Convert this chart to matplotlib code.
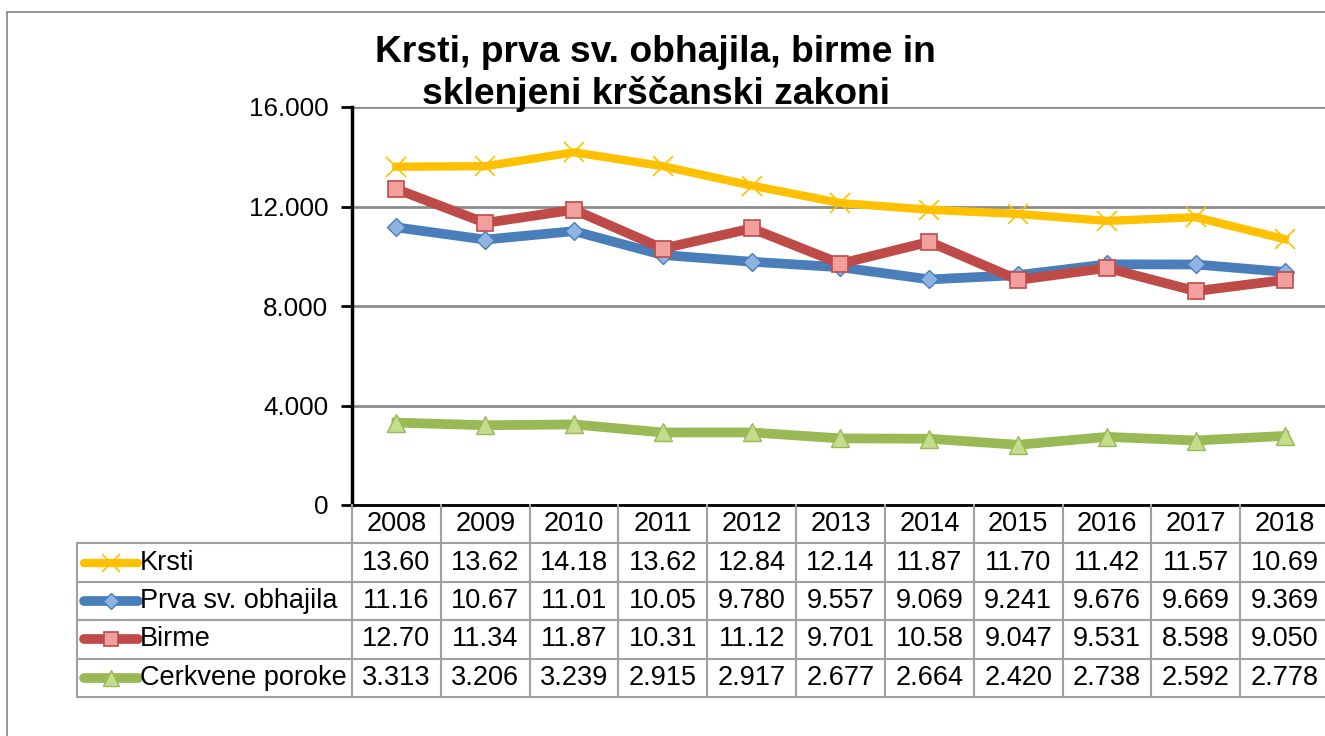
import matplotlib
matplotlib.use("Agg")
import matplotlib.pyplot as plt
from matplotlib.patches import Rectangle

plt.rcParams['font.family'] = ['Liberation Sans', 'DejaVu Sans']

# podatki (v tisocih)
years = ["2008", "2009", "2010", "2011", "2012", "2013", "2014", "2015", "2016", "2017", "2018"]
krsti = [13.60, 13.62, 14.18, 13.62, 12.84, 12.14, 11.87, 11.70, 11.42, 11.57, 10.69]
obhajila = [11.16, 10.67, 11.01, 10.05, 9.780, 9.557, 9.069, 9.241, 9.676, 9.669, 9.369]
birme = [12.70, 11.34, 11.87, 10.31, 11.12, 9.701, 10.58, 9.047, 9.531, 8.598, 9.050]
poroke = [3.313, 3.206, 3.239, 2.915, 2.917, 2.677, 2.664, 2.420, 2.738, 2.592, 2.778]
names = ["Krsti", "Prva sv. obhajila", "Birme", "Cerkvene poroke"]
yticks = [0, 4000, 8000, 12000, 16000]

series = [krsti, obhajila, birme, poroke]
lines = [dict(color="#FFC000", lw=6), dict(color="#4A7EBB", lw=7),
         dict(color="#BE4B48", lw=7), dict(color="#98B954", lw=7)]
marks = [
    dict(marker="x", ms=15, mec="#FFC000", mew=1.2),
    dict(marker="D", ms=9, mfc="#8DB4E2", mec="#4A7EBB", mew=1),
    dict(marker="s", ms=12, mfc="#F2A09E", mec="#BE4B48", mew=1.2),
    dict(marker="^", ms=13, mfc="#C4DC8C", mec="#98B954", mew=1),
]

W, H = 1325, 736
fig = plt.figure(figsize=(W / 100, H / 100), dpi=100)

# zunanji okvir
fig.patches.append(Rectangle((7 / W, -0.1), 1.2, 1 - 12 / H + 0.1, transform=fig.transFigure,
                             fill=False, ec="#8C8C8C", lw=1.3))

left, right, top, bottom = 352, 1329, 107, 505
ax = fig.add_axes([left / W, 1 - bottom / H, (right - left) / W, (bottom - top) / H])
ax.set_xlim(-0.5, 10.5)
ax.set_ylim(0, 16000)
for s, ls, mk in zip(series, lines, marks):
    ax.plot(range(len(years)), [v * 1000 for v in s], solid_joinstyle="round", **ls, **mk)

ax.set_yticks(yticks)
ax.set_yticklabels([f"{t:,}".replace(",", ".") for t in yticks], fontsize=18.7)
ax.tick_params(axis="y", direction="out", length=8, width=2, pad=9)
ax.set_xticks([])
ax.grid(axis="y", color="#8C8C8C", lw=2)
ax.set_axisbelow(True)
for sp in ["top", "right"]:
    ax.spines[sp].set_visible(False)
ax.spines["left"].set_linewidth(2.5)
ax.spines["bottom"].set_linewidth(2)

ax.text(0.311, 1.0 - 5 / 398, "Krsti, prva sv. obhajila, birme in\nsklenjeni krščanski zakoni",
        transform=ax.transAxes, ha="center", va="bottom", fontsize=26.8, fontweight="bold",
        linespacing=1.2, zorder=5)

# tabela s podatki
tb = 697
tax = fig.add_axes([left / W, 1 - tb / H, (right - left) / W, (tb - bottom) / H])
tax.set_xlim(-0.5, 10.5)
tax.set_ylim(5, 0)
tax.axis("off")
colw = (right - left) / 11
x_lab = -0.5 - (left - 77) / colw
gc = "#A0A0A0"
fs = 19.5
for i in range(12):
    tax.plot([i - 0.5, i - 0.5], [0, 5], color=gc, lw=1.5, clip_on=False)
for r in range(1, 6):
    tax.plot([x_lab, 10.5], [r, r], color=gc, lw=1.5, clip_on=False)
tax.plot([x_lab, x_lab], [1, 5], color=gc, lw=1.5, clip_on=False)

for i, y in enumerate(years):
    tax.text(i, 0.5, y, ha="center", va="center", fontsize=fs)
for r, (nm, s, ls, mk) in enumerate(zip(names, series, lines, marks)):
    yy = r + 1.5
    k0 = -0.5 - (left - 84) / colw
    k1 = -0.5 - (left - 138) / colw
    km = dict(mk)
    km["ms"] = mk["ms"] * 0.85
    tax.plot([k0, k1], [yy, yy], clip_on=False, solid_capstyle="round", **ls)
    tax.plot([(k0 + k1) / 2], [yy], clip_on=False, ls="none", **km)
    tax.text(-0.5 - (left - 140) / colw, yy, nm, ha="left", va="center", fontsize=fs)
    for i, v in enumerate(s):
        lab = f"{v:.2f}" if v >= 10 else f"{v:.3f}"
        tax.text(i, yy, lab, ha="center", va="center", fontsize=fs)

fig.savefig("out.png", dpi=100)
